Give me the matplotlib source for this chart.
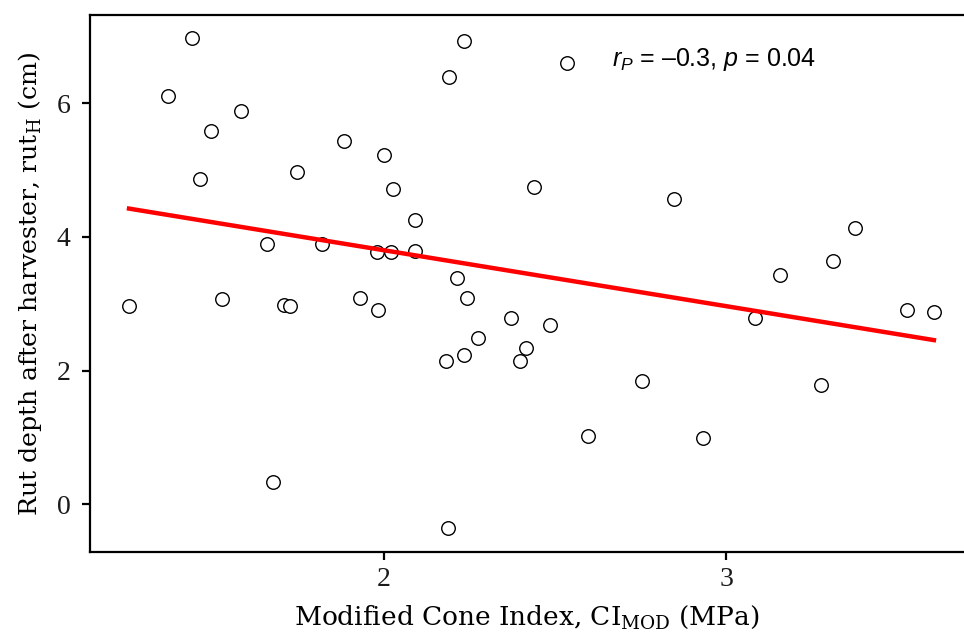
import numpy as np
import matplotlib
matplotlib.use("Agg")
import matplotlib.pyplot as plt

plt.rcParams['font.family'] = ['Liberation Serif', 'DejaVu Serif']
plt.rcParams['mathtext.fontset'] = 'custom'
plt.rcParams['mathtext.rm'] = 'DejaVu Serif'
plt.rcParams['mathtext.it'] = 'Liberation Sans:italic'

# Modified cone index (MPa) and rut depth after harvester (cm)
ci_mod = [1.254, 1.368, 1.439, 1.462, 1.494, 1.526, 1.582, 1.658, 1.675, 1.708,
          1.725, 1.746, 1.819, 1.883, 1.930, 1.982, 1.980, 2.000, 2.020, 2.026,
          2.090, 2.090, 2.180, 2.187, 2.190, 2.213, 2.234, 2.234, 2.243, 2.275,
          2.371, 2.398, 2.415, 2.439, 2.485, 2.535, 2.596, 2.754, 2.848, 2.933,
          3.085, 3.158, 3.278, 3.313, 3.377, 3.529, 3.608]
rut_h = [2.97, 6.11, 6.97, 4.87, 5.59, 3.07, 5.89, 3.89, 0.33, 2.98,
         2.97, 4.97, 3.89, 5.44, 3.09, 2.91, 3.78, 5.23, 3.78, 4.72,
         4.25, 3.79, 2.15, -0.35, 6.40, 3.39, 2.24, 6.93, 3.09, 2.49,
         2.79, 2.15, 2.34, 4.75, 2.68, 6.60, 1.02, 1.85, 4.57, 0.99,
         2.79, 3.43, 1.79, 3.64, 4.14, 2.91, 2.88]
annot = "$r_P$ = \u20130.3, $p$ = 0.04"

x = np.array(ci_mod)
y = np.array(rut_h)
slope, intercept = np.polyfit(x, y, 1)
xfit = np.array([x.min(), x.max()])

fig = plt.figure(figsize=(9.64, 6.34), dpi=100)
ax = fig.add_axes([0.0934, 0.1293, 0.9066, 0.847])

ax.scatter(x, y, s=95, facecolors='white', edgecolors='black', linewidths=1.0, zorder=2)
ax.plot(xfit, slope * xfit + intercept, color='#ff0000', lw=3.2, zorder=3)

ax.text(2.965, 6.65, annot, family='Liberation Sans', fontsize=18, ha='center', va='center')

ax.set_xlim(1.140, 3.696)
ax.set_ylim(-0.714, 7.32)
ax.set_xticks([2, 3])
ax.set_yticks([0, 2, 4, 6])
ax.tick_params(labelsize=20, width=1.6, length=6, color='black', labelcolor='#1a1a1a')
ax.tick_params(axis='y', pad=8)
ax.tick_params(axis='x', pad=5)

for side in ['left', 'bottom', 'top']:
    ax.spines[side].set_linewidth(1.6)
ax.spines['right'].set_visible(False)

ax.set_xlabel("Modified Cone Index, CI$_{\\mathrm{MOD}}$ (MPa)", family='DejaVu Serif',
              fontsize=19, labelpad=8)
ax.set_ylabel("Rut depth after harvester, rut$_{\\mathrm{H}}$ (cm)", family='DejaVu Serif',
              fontsize=18.2, labelpad=9)

fig.savefig("out.png", dpi=100)
